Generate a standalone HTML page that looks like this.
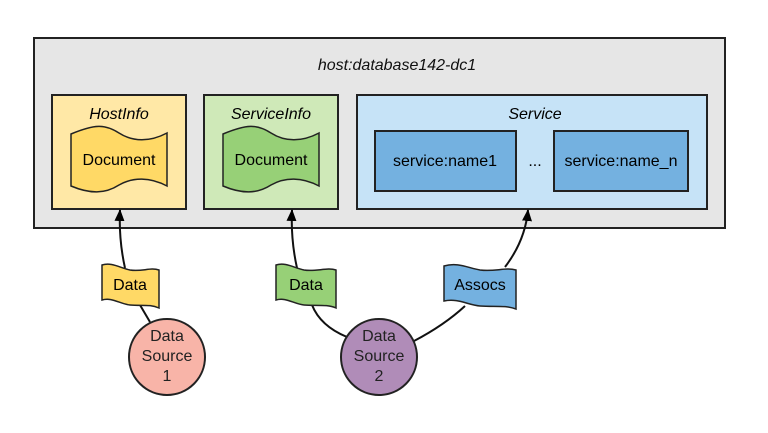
<!DOCTYPE html>
<html><head><style>
body{margin:0;background:#fff;}
svg{display:block;font-family:"Liberation Sans",sans-serif;}
</style></head><body>
<svg width="768" height="433" viewBox="0 0 768 433">
<defs>
<marker id="a" markerWidth="12" markerHeight="10" refX="11" refY="5" orient="auto" markerUnits="userSpaceOnUse" viewBox="0 0 12 10">
<path d="M0,0 L12,5 L0,10 Z" fill="#000"/></marker>
</defs>
<rect x="34" y="38" width="691" height="190" fill="#e6e6e6" stroke="#222" stroke-width="2"/>
<text x="397" y="70" font-size="16" font-style="italic" text-anchor="middle" fill="#111">host:database142-dc1</text>

<rect x="52" y="95" width="134" height="114" fill="#ffe8a6" stroke="#222" stroke-width="2"/>
<text x="119" y="119" font-size="16" font-style="italic" text-anchor="middle">HostInfo</text>
<path d="M71,134 C95,124 105,124 119,133 C133,142 150,142 167,133 L167,186 C150,177 133,177 119,185 C105,194 90,194 71,186 Z" fill="#ffd966" stroke="#222" stroke-width="1.5"/>
<text x="119" y="165" font-size="16" text-anchor="middle">Document</text>

<rect x="204" y="95" width="134" height="114" fill="#cfe9b8" stroke="#222" stroke-width="2"/>
<text x="271" y="119" font-size="16" font-style="italic" text-anchor="middle">ServiceInfo</text>
<path d="M223,134 C247,124 257,124 271,133 C285,142 302,142 319,133 L319,186 C302,177 285,177 271,185 C257,194 242,194 223,186 Z" fill="#97d077" stroke="#222" stroke-width="1.5"/>
<text x="271" y="165" font-size="16" text-anchor="middle">Document</text>

<rect x="357" y="95" width="350" height="114" fill="#c6e3f7" stroke="#222" stroke-width="2"/>
<text x="535" y="119" font-size="16" font-style="italic" text-anchor="middle">Service</text>
<rect x="375" y="131" width="141" height="60" fill="#74b1e0" stroke="#222" stroke-width="2"/>
<text x="445" y="166" font-size="16" text-anchor="middle">service:name1</text>
<text x="535" y="166" font-size="16" text-anchor="middle">...</text>
<rect x="554" y="131" width="134" height="60" fill="#74b1e0" stroke="#222" stroke-width="2"/>
<text x="621" y="166" font-size="16" text-anchor="middle">service:name_n</text>

<g fill="none" stroke="#111" stroke-width="2">
<path d="M125,268 C121,250 119,232 120,210" marker-end="url(#a)"/>
<path d="M297,268 C293,250 291,232 292,210" marker-end="url(#a)"/>
<path d="M505,267 C518,250 526,232 528,210" marker-end="url(#a)"/>
<path d="M150,322 L140,305"/>
<path d="M347,337 C330,330 318,320 312,305"/>
<path d="M414,341 C435,330 452,318 465,306"/>
</g>

<path d="M102,265 C112,262 120,268 130,270 C142,272 150,267 159,270 L159,308 C150,304 142,306 130,305 C120,304 112,297 102,300 Z" fill="#ffd966" stroke="#222" stroke-width="1.5"/>
<text x="130" y="290" font-size="16" text-anchor="middle">Data</text>
<path d="M276,265 C286,262 294,268 304,270 C316,272 327,267 336,270 L336,308 C327,304 316,306 304,305 C294,304 286,297 276,300 Z" fill="#97d077" stroke="#222" stroke-width="1.5"/>
<text x="306" y="290" font-size="16" text-anchor="middle">Data</text>
<path d="M444,266 C458,262 468,268 480,270 C495,272 505,267 516,270 L516,309 C505,305 495,307 480,306 C468,305 458,298 444,301 Z" fill="#74b1e0" stroke="#222" stroke-width="1.5"/>
<text x="480" y="290" font-size="16" text-anchor="middle">Assocs</text>

<circle cx="167" cy="357" r="38" fill="#f8b4a8" stroke="#222" stroke-width="2"/>
<text x="167" y="341" font-size="16" text-anchor="middle" fill="#222">Data</text>
<text x="167" y="361" font-size="16" text-anchor="middle" fill="#222">Source</text>
<text x="167" y="381" font-size="16" text-anchor="middle" fill="#222">1</text>
<circle cx="379" cy="357" r="38" fill="#b08cb8" stroke="#222" stroke-width="2"/>
<text x="379" y="341" font-size="16" text-anchor="middle" fill="#222">Data</text>
<text x="379" y="361" font-size="16" text-anchor="middle" fill="#222">Source</text>
<text x="379" y="381" font-size="16" text-anchor="middle" fill="#222">2</text>
</svg>
</body></html>
